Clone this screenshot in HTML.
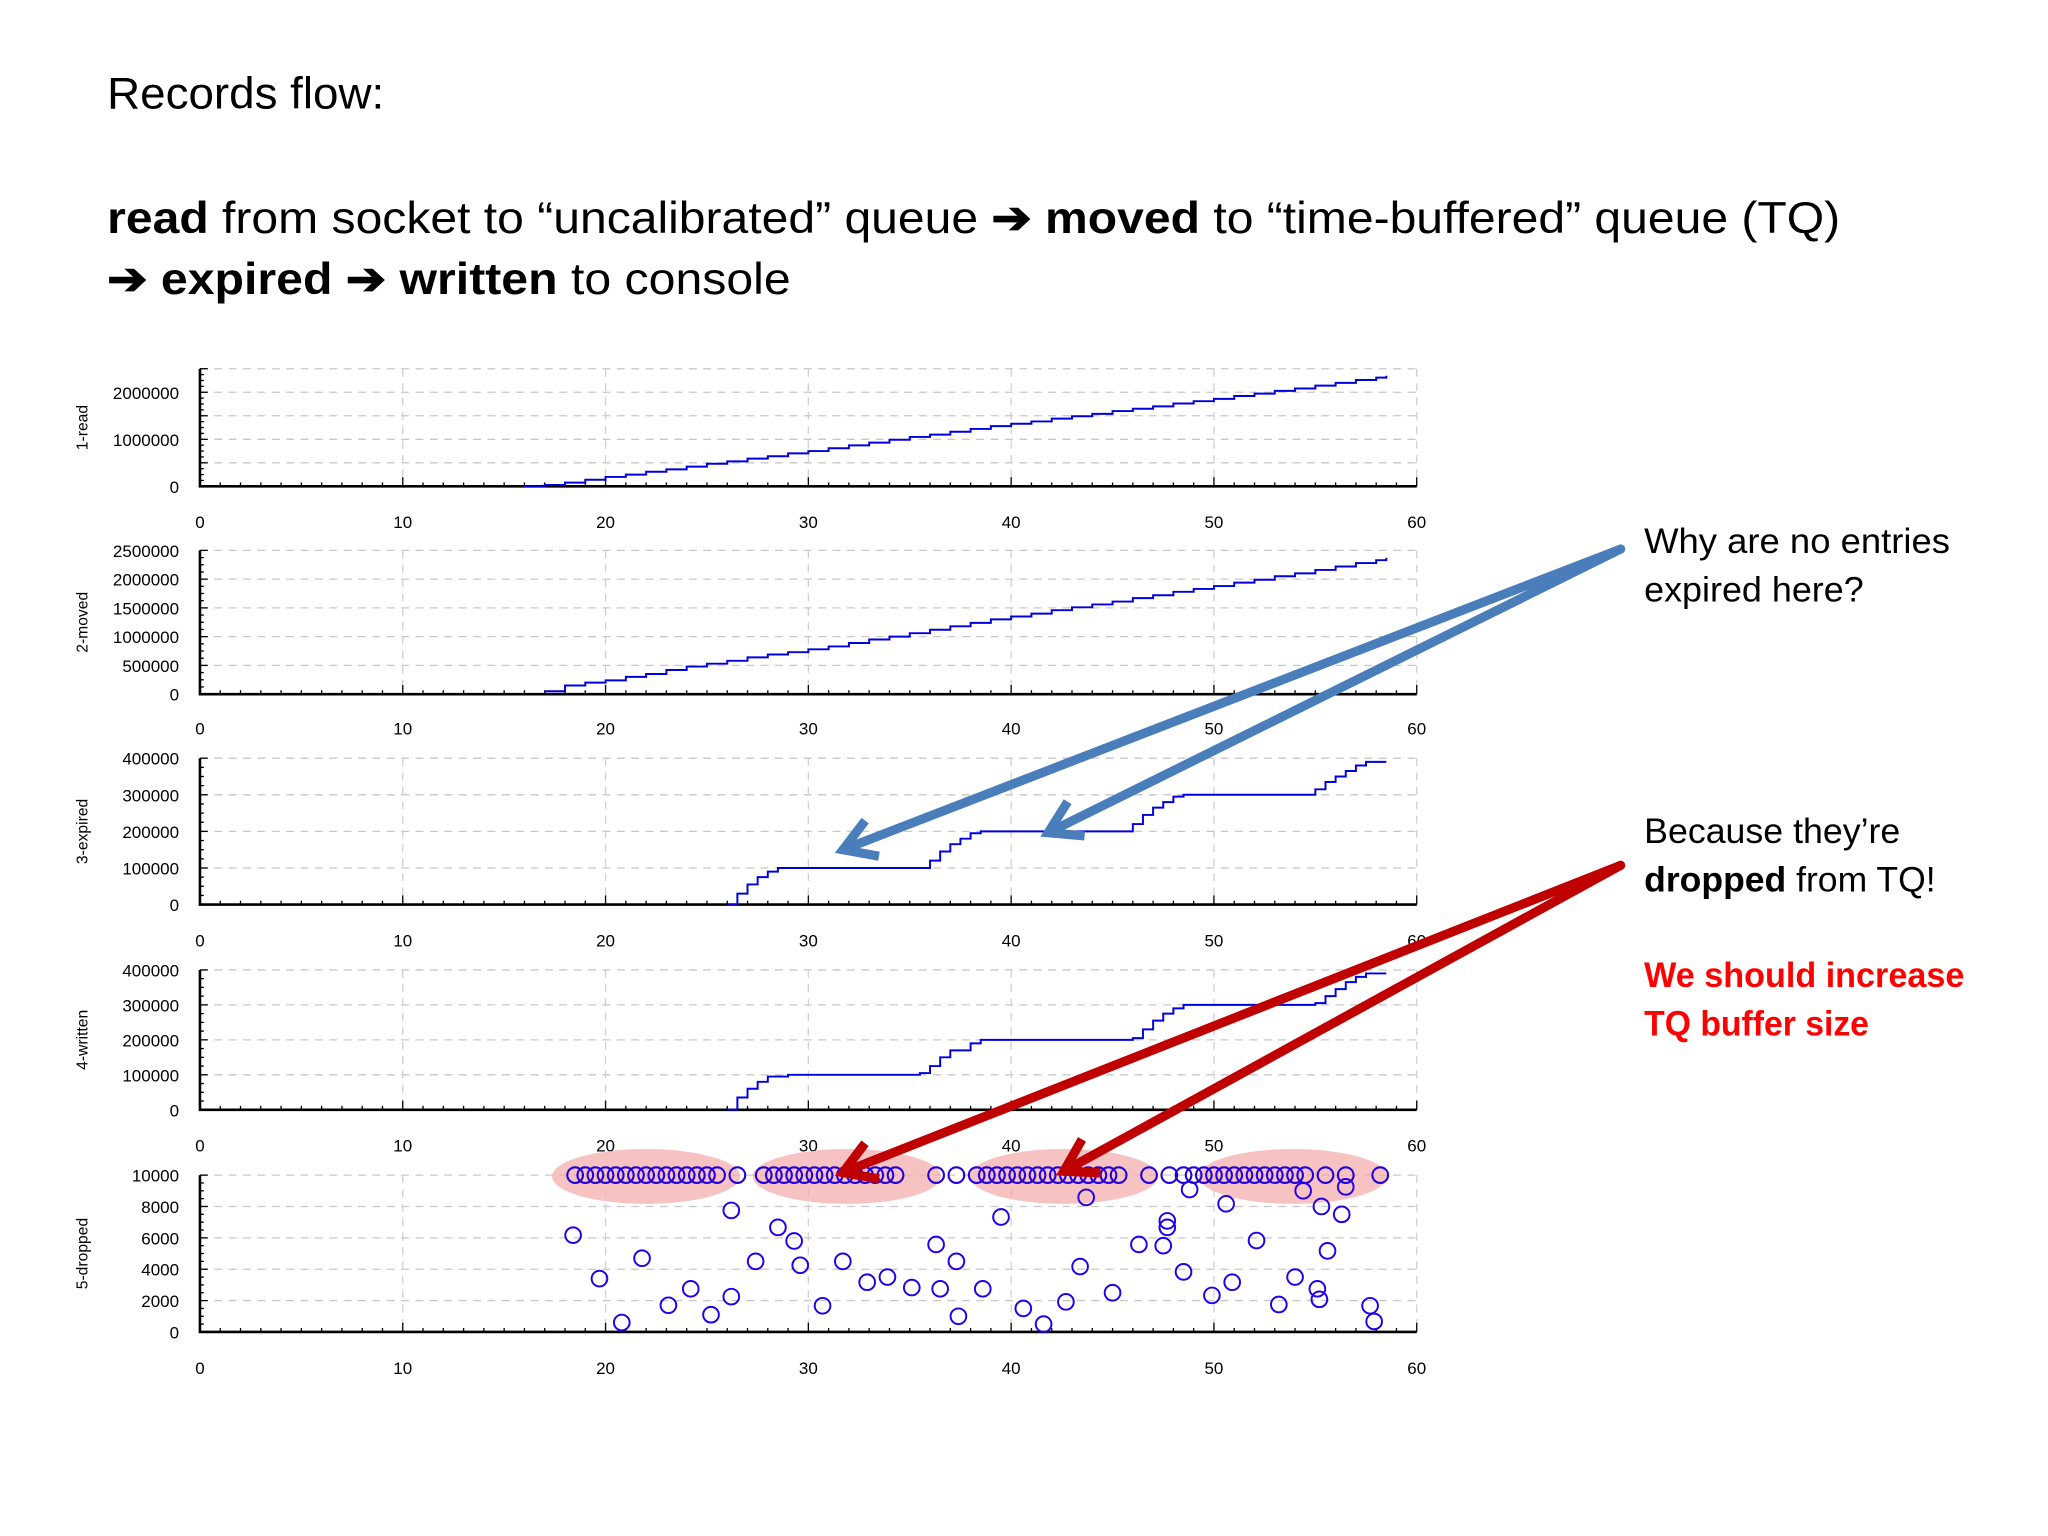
<!DOCTYPE html>
<html><head><meta charset="utf-8"><style>
html,body{margin:0;padding:0;background:#fff;}
svg{display:block;}
</style></head><body>
<svg id="s" width="2048" height="1536" viewBox="0 0 1567 1175" xmlns="http://www.w3.org/2000/svg" font-family="Liberation Sans, sans-serif">
<text x="82" y="83" font-size="34" textLength="212" lengthAdjust="spacingAndGlyphs">Records flow:</text>
<text x="82" y="178" font-size="34" textLength="1326" lengthAdjust="spacingAndGlyphs"><tspan font-weight="bold">read</tspan> from socket to “uncalibrated” queue <tspan font-weight="bold">➔ moved</tspan> to “time-buffered” queue (TQ)</text>
<text x="82" y="225" font-size="34" font-weight="bold" textLength="523" lengthAdjust="spacingAndGlyphs">➔ expired ➔ written <tspan font-weight="normal">to console</tspan></text>
<g id="charts"></g>
<g id="ann"></g>
<text font-size="27" x="1258" y="423" textLength="234" lengthAdjust="spacingAndGlyphs">Why are no entries</text>
<text font-size="27" x="1258" y="460" textLength="168" lengthAdjust="spacingAndGlyphs">expired here?</text>
<text font-size="27" x="1258" y="645" textLength="196" lengthAdjust="spacingAndGlyphs">Because they’re</text>
<text font-size="27" x="1258" y="682" textLength="223" lengthAdjust="spacingAndGlyphs"><tspan font-weight="bold">dropped</tspan> from TQ!</text>
<text font-size="27" x="1258" y="755" fill="#ff0000" font-weight="bold" textLength="245" lengthAdjust="spacingAndGlyphs">We should increase</text>
<text font-size="27" x="1258" y="792" fill="#ff0000" font-weight="bold" textLength="172" lengthAdjust="spacingAndGlyphs">TQ buffer size</text>
</svg>
<script>
const xTicks=[0,10,20,30,40,50,60];
const readX=[16,17,18,19,20,21,22,23,24,25,26,27,28,29,30,31,32,33,34,35,36,37,38,39,40,41,42,43,44,45,46,47,48,49,50,51,52,53,54,55,56,57,58,58.5];
const readY=[0,30000,80000,140000,200000,250000,310000,360000,420000,480000,530000,590000,640000,700000,750000,810000,870000,930000,990000,1050000,1100000,1160000,1220000,1280000,1330000,1380000,1440000,1490000,1540000,1600000,1650000,1700000,1760000,1810000,1860000,1920000,1970000,2030000,2080000,2140000,2200000,2260000,2310000,2350000];
const movedX=[17,18,19,20,21,22,23,24,25,26,27,28,29,30,31,32,33,34,35,36,37,38,39,40,41,42,43,44,45,46,47,48,49,50,51,52,53,54,55,56,57,58,58.5];
const movedY=[50000,150000,200000,240000,300000,350000,420000,480000,530000,580000,640000,690000,730000,780000,830000,890000,950000,1000000,1060000,1120000,1180000,1240000,1300000,1350000,1400000,1460000,1510000,1560000,1610000,1670000,1720000,1780000,1830000,1880000,1940000,1990000,2050000,2100000,2160000,2220000,2280000,2330000,2370000];
const expX=[26,26.5,27,27.5,28,28.5,35.5,36,36.5,37,37.5,38,38.5,45.5,46,46.5,47,47.5,48,48.5,54.5,55,55.5,56,56.5,57,57.5,58.5];
const expY=[0,30000,55000,75000,90000,100000,100000,120000,145000,165000,180000,195000,200000,200000,220000,245000,265000,280000,295000,300000,300000,315000,335000,350000,365000,380000,390000,390000];
const wrX=[26,26.5,27,27.5,28,29,35.5,36,36.5,37,38,38.5,46,46.5,47,47.5,48,48.5,55,55.5,56,56.5,57,57.5,58.5];
const wrY=[0,35000,60000,80000,95000,100000,105000,125000,150000,170000,190000,200000,205000,230000,255000,275000,290000,300000,305000,325000,345000,365000,380000,390000,390000];
const dropX=[18.4,19.7,20.8,21.8,23.1,24.2,25.2,26.2,26.2,27.4,28.5,29.3,29.6,30.7,31.7,32.9,33.9,35.1,36.3,36.5,37.3,37.4,38.6,39.5,40.6,41.6,42.7,43.4,43.7,45.0,46.3,47.5,47.7,47.7,48.5,48.8,49.9,50.6,50.9,52.1,53.2,54.0,54.4,55.1,55.2,55.3,55.6,56.3,56.5,57.7,57.9];
const dropY=[6170,3400,600,4700,1700,2750,1100,2250,7750,4500,6670,5800,4250,1670,4500,3170,3500,2830,5580,2750,4500,1000,2750,7330,1500,500,1920,4170,8580,2500,5580,5500,7080,6670,3830,9080,2330,8170,3170,5830,1750,3500,9000,2750,2080,8000,5170,7500,9250,1670,670];
const topRowX=[18.5,19,19.5,20,20.5,21,21.5,22,22.5,23,23.5,24,24.5,25,25.5,26.5,27.8,28.3,28.8,29.3,29.8,30.3,30.8,31.3,31.8,32.3,32.8,33.3,33.8,34.3,36.3,37.3,38.3,38.8,39.3,39.8,40.3,40.8,41.3,41.8,42.3,42.8,43.3,43.8,44.3,44.8,45.3,46.8,47.8,48.5,49,49.5,50,50.5,51,51.5,52,52.5,53,53.5,54,54.5,55.5,56.5,58.2];
const panels=[
 {name:'1-read',y0:372,yTop:282,max:2500000,ticks:[0,1000000,2000000],grid:[500000,1000000,1500000,2000000,2500000],lbl:399,xs:readX,ys:readY},
 {name:'2-moved',y0:531,yTop:421,max:2500000,ticks:[0,500000,1000000,1500000,2000000,2500000],grid:[500000,1000000,1500000,2000000,2500000],lbl:557,xs:movedX,ys:movedY},
 {name:'3-expired',y0:692,yTop:580,max:400000,ticks:[0,100000,200000,300000,400000],grid:[100000,200000,300000,400000],lbl:719,xs:expX,ys:expY},
 {name:'4-written',y0:849,yTop:742,max:400000,ticks:[0,100000,200000,300000,400000],grid:[100000,200000,300000,400000],lbl:876,xs:wrX,ys:wrY},
 {name:'5-dropped',y0:1019,yTop:899,max:10000,ticks:[0,2000,4000,6000,8000,10000],grid:[2000,4000,6000,8000,10000],lbl:1046,scatter:true}
];
const NS='http://www.w3.org/2000/svg';
function mk(tag,attrs,parent){const e=document.createElementNS(NS,tag);for(const k in attrs)e.setAttribute(k,attrs[k]);parent.appendChild(e);return e;}
const X0=153,X1=1084;
function sx(v){return X0+(X1-X0)*v/60;}
const root=document.getElementById('charts');
panels.forEach((p,pi)=>{
 const g=mk('g',{},root);
 
 
 const sy=v=>p.y0-(p.y0-p.yTop)*v/p.max;
 p.grid.forEach(v=>{const l=mk('line',{x1:X0,x2:X1,y1:sy(v),y2:sy(v),stroke:'#c8c8c8','stroke-dasharray':'6,5','stroke-width':1},g);
  });
 xTicks.slice(1).forEach(v=>{const l=mk('line',{x1:sx(v),x2:sx(v),y1:p.yTop,y2:p.y0,stroke:'#d0d0d0','stroke-dasharray':'6,5','stroke-width':1},g);
  });
 const ax=mk('path',{d:`M${X0},${p.yTop} V${p.y0} H${X1}`,fill:'none',stroke:'#000','stroke-width':2},g);
 
 for(let i=0;i<=60;i++){const h=i%10===0?7:3;mk('line',{x1:sx(i),x2:sx(i),y1:p.y0,y2:p.y0-h,stroke:'#000','stroke-width':1},g);}
 const nMinor=p.grid.length*4;
 for(let i=0;i<=nMinor;i++){const y=p.y0-(p.y0-sy(p.grid[p.grid.length-1]))*i/nMinor;mk('line',{x1:X0,x2:X0+(i%4===0?6:3),y1:y,y2:y,stroke:'#000','stroke-width':1},g);}
 xTicks.forEach(v=>{const t=mk('text',{x:sx(v),y:p.lbl+5,'font-size':13,'text-anchor':'middle'},g);t.textContent=v;
  });
 p.ticks.forEach(v=>{const t=mk('text',{x:137,y:sy(v)+5,'font-size':13,'text-anchor':'end'},g);t.textContent=v;
  });
 const yc=(p.y0+p.yTop)/2;
 const tt=mk('text',{x:67,y:yc,'font-size':12,'text-anchor':'middle',transform:`rotate(-90 67 ${yc})`},g);tt.textContent=p.name;
 
 if(!p.scatter){
  let d='';p.xs.forEach((x,i)=>{const px=sx(x),py=sy(p.ys[i]);d+=i===0?`M${px},${py}`:`H${px}V${py}`;});
  const l=mk('path',{d:d,fill:'none',stroke:'#0000dd','stroke-width':1.5},g);
  
 } else {
  const ell=[[22,30],[31.9,30],[42.6,29],[53.9,28]];
  ell.forEach(e=>{const el=mk('ellipse',{cx:sx(e[0]),cy:sy(10000)+1,rx:72,ry:21,fill:'#f4a8a8','fill-opacity':0.7},g);
   });
  topRowX.forEach(x=>{const c=mk('circle',{cx:sx(x),cy:sy(10000),r:6,fill:'none',stroke:'#2200dd','stroke-width':1.6},g);
   });
  dropX.forEach((x,i)=>{const c=mk('circle',{cx:sx(x),cy:sy(dropY[i]),r:6,fill:'none',stroke:'#2200ee','stroke-width':1.5},g);
   });
 }
});
const ann=document.getElementById('ann');
function arrow(x1,y1,x2,y2,col,name){
 const g=mk('g',{},ann);
 
 mk('line',{x1:x1,y1:y1,x2:x2,y2:y2,stroke:col,'stroke-width':7,'stroke-linecap':'round'},g);
 const a=Math.atan2(y2-y1,x2-x1),L=28,s=0.55;
 const p1=[x2-L*Math.cos(a-s),y2-L*Math.sin(a-s)],p2=[x2-L*Math.cos(a+s),y2-L*Math.sin(a+s)];
 mk('polyline',{points:`${p1} ${x2},${y2} ${p2}`,fill:'none',stroke:col,'stroke-width':7,'stroke-linejoin':'miter'},g);
}
arrow(1240,420,645,650,'#4a7ebb','blue-arrow-1');
arrow(1240,420,802,637,'#4a7ebb','blue-arrow-2');
arrow(1240,662,645,897,'#c00000','red-arrow-1');
arrow(1240,662,814,896,'#c00000','red-arrow-2');
</script>
</body></html>
